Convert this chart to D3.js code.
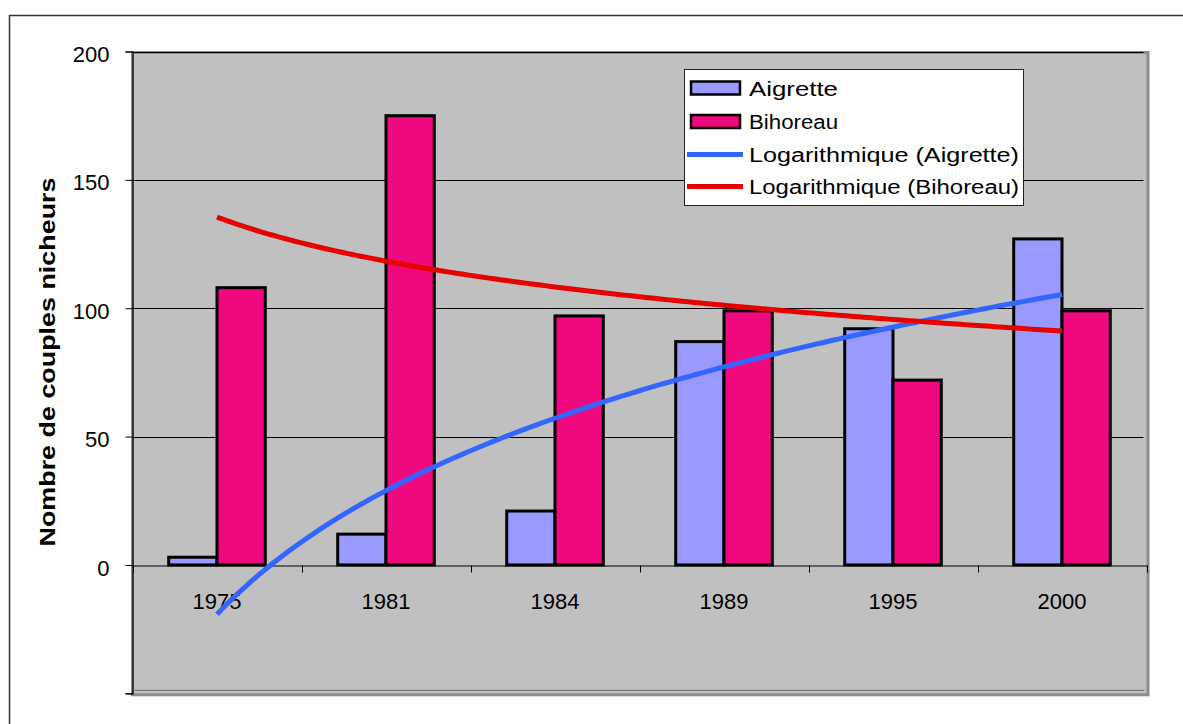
<!DOCTYPE html>
<html><head><meta charset="utf-8">
<script src="https://cdn.jsdelivr.net/npm/d3@7"></script>
<style>body{margin:0;background:#fff}svg{display:block}text{font-family:"Liberation Sans",Arial,sans-serif}</style>
</head><body><svg id="c" width="1183" height="724"></svg>
<script>
const years = ["1975","1981","1984","1989","1995","2000"];
const seriesNames = ["Aigrette","Bihoreau"];
const aigrette = [3,12,21,87,92,127];
const bihoreau = [108,175,97,99,72,99];
const yTicks = [-50,0,50,100,150,200];
const yTickLabels = ["","0","50","100","150","200"];
const gridValues = [50,100,150,200];
const legendLabels = ["Aigrette","Bihoreau","Logarithmique (Aigrette)","Logarithmique (Bihoreau)"];
const yTitle = "Nombre de couples nicheurs";

const colors = {Aigrette:"#9999FF", Bihoreau:"#F0087F", trendA:"#3366FF", trendB:"#E60000"};

const svg = d3.select("#c");
const L = 132.5, R = 1146.5, T = 51.5, B = 693.3;

// outer chart border
svg.append("rect").attr("x",9.5).attr("y",15.5).attr("width",1300).attr("height",900)
  .attr("fill","#fff").attr("stroke","#333").attr("stroke-width",1.5);

const x = d3.scaleBand().domain(years).range([L,R]).padding(0);
const x1 = d3.scaleBand().domain(seriesNames).range([0,x.bandwidth()]).paddingInner(0).paddingOuter(0.75);
const y = d3.scaleLinear().domain([-50,200]).range([B,T]);

// plot area
svg.append("rect").attr("x",L).attr("y",T+1).attr("width",R-L+1.5).attr("height",B-T+0.5)
  .attr("fill","#C0C0C0").attr("stroke","#8c8c8c").attr("stroke-width",3);
svg.append("line").attr("x1",L+2).attr("x2",R-2).attr("y1",B-3).attr("y2",B-3).attr("stroke","#6a6a6a").attr("stroke-width",1);

// gridlines
svg.append("g").selectAll("line").data(gridValues).join("line")
  .attr("x1",L).attr("x2",R-3).attr("y1",d=>Math.round(y(d))+0.5).attr("y2",d=>Math.round(y(d))+0.5)
  .attr("stroke","#000").attr("stroke-width",1);

// bars
const rows = years.map((yr,i)=>({year:yr, values:[{k:"Aigrette",v:aigrette[i]},{k:"Bihoreau",v:bihoreau[i]}]}));
svg.append("g").selectAll("g").data(rows).join("g")
  .attr("transform",d=>`translate(${x(d.year)},0)`)
  .selectAll("rect").data(d=>d.values).join("rect")
  .attr("x",d=>x1(d.k)).attr("width",x1.bandwidth())
  .attr("y",d=>y(d.v)).attr("height",d=>y(0)-y(d.v))
  .attr("fill",d=>colors[d.k]).attr("stroke","#000").attr("stroke-width",3);

// y axis
const yAxis = svg.append("g").attr("transform",`translate(${L},0)`)
  .call(d3.axisLeft(y).tickValues(yTicks).tickSize(7).tickFormat((d,i)=>yTickLabels[i]));
yAxis.select(".domain").attr("stroke","#000").attr("stroke-width",1.2);
yAxis.selectAll(".tick line").attr("stroke","#000");
yAxis.selectAll(".tick text").attr("font-size",22).attr("fill","#000").attr("x",-23).attr("dy","0.46em")
  .style("font-family",'"Liberation Sans",Arial,sans-serif');

// x axis
const y0 = Math.round(y(0))+0.5;
const xAxis = svg.append("g").attr("transform",`translate(0,${y0})`)
  .call(d3.axisBottom(x).tickSize(0));
xAxis.select(".domain").attr("stroke","#000").attr("stroke-width",1);
xAxis.selectAll(".tick text").attr("font-size",22).attr("fill","#000").attr("y",43).attr("dy",0)
  .style("font-family",'"Liberation Sans",Arial,sans-serif');
const bounds = years.map(d=>x(d)).concat([x(years[years.length-1])+x.bandwidth()]);
svg.append("g").selectAll("line").data(bounds).join("line")
  .attr("x1",d=>Math.round(d)+0.5).attr("x2",d=>Math.round(d)+0.5).attr("y1",y0).attr("y2",y0+7)
  .attr("stroke","#000").attr("stroke-width",1);

// logarithmic trendlines (least squares y = a ln(i) + b, i = 1..n)
function logFit(vals){
  const n = vals.length, xs = vals.map((_,i)=>Math.log(i+1));
  const mx = d3.mean(xs), my = d3.mean(vals);
  let sxy=0, sxx=0;
  xs.forEach((xv,i)=>{sxy+=(xv-mx)*(vals[i]-my); sxx+=(xv-mx)*(xv-mx);});
  const a = sxy/sxx, b = my - a*mx;
  return t => a*Math.log(t)+b;
}
const xt = d3.scaleLinear().domain([1,years.length])
  .range([x(years[0])+x.bandwidth()/2, x(years[years.length-1])+x.bandwidth()/2]);
const samples = d3.range(0,201).map(k=>1+k*(years.length-1)/200);
const line = d3.line().x(d=>xt(d[0])).y(d=>y(d[1]));
[[aigrette,colors.trendA],[bihoreau,colors.trendB]].forEach(([vals,c])=>{
  const f = logFit(vals);
  svg.append("path").datum(samples.map(t=>[t,f(t)])).attr("d",line)
    .attr("fill","none").attr("stroke",c).attr("stroke-width",5);
});

// y title
svg.append("text").attr("transform","translate(55,362) rotate(-90)")
  .attr("text-anchor","middle").attr("font-size",22).attr("font-weight","bold")
  .attr("textLength",369).attr("lengthAdjust","spacingAndGlyphs").text(yTitle);

// legend
const lg = svg.append("g");
lg.append("rect").attr("x",684.5).attr("y",69.5).attr("width",339).attr("height",136)
  .attr("fill","#fff").attr("stroke","#222").attr("stroke-width",1);
const rowC = [88,121.5,154.5,186.5];
const textLens = [89,89,270,270];
const swatchFills = [colors.Aigrette, colors.Bihoreau];
const lineCols = [colors.trendA, colors.trendB];
legendLabels.forEach((lab,i)=>{
  if(i<2){
    lg.append("rect").attr("x",691).attr("y",rowC[i]-6.5).attr("width",49).attr("height",13)
      .attr("fill",swatchFills[i]).attr("stroke","#000").attr("stroke-width",2.5);
  } else {
    lg.append("line").attr("x1",687).attr("x2",743).attr("y1",rowC[i]).attr("y2",rowC[i])
      .attr("stroke",lineCols[i-2]).attr("stroke-width",5);
  }
  lg.append("text").attr("x",749).attr("y",rowC[i]+7.5).attr("font-size",20)
    .attr("textLength",textLens[i]).attr("lengthAdjust","spacingAndGlyphs").attr("fill","#000").text(lab);
});
</script></body></html>
